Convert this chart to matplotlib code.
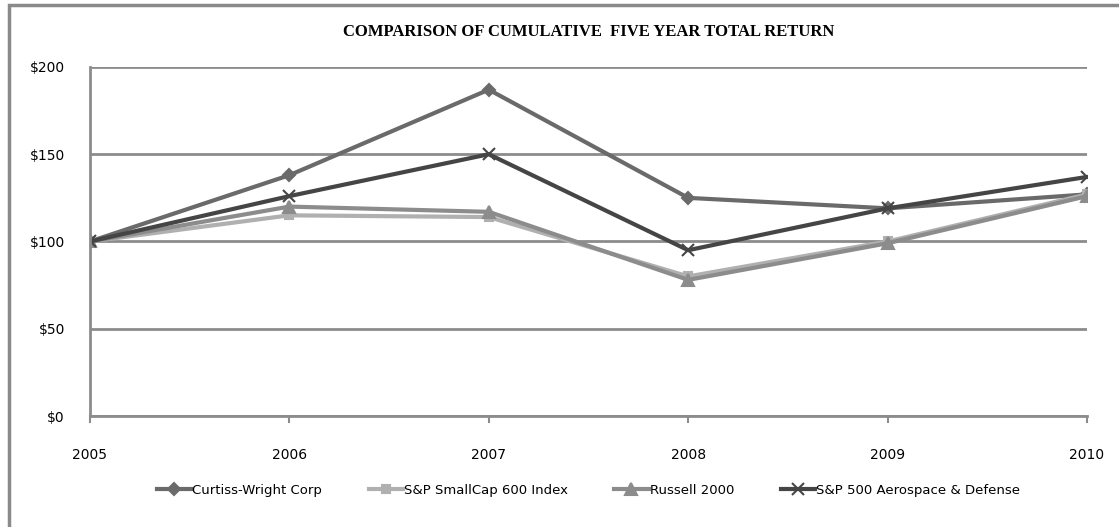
import matplotlib
matplotlib.use("Agg")
import matplotlib.pyplot as plt
from matplotlib.patches import Rectangle

years = ["2005", "2006", "2007", "2008", "2009", "2010"]
curtiss_wright = [100, 138, 187, 125, 119, 127]
smallcap_600 = [100, 115, 114, 80, 100, 127]
russell_2000 = [100, 120, 117, 78, 99, 126]
aero_defense = [100, 126, 150, 95, 119, 137]

y_ticks = [0, 50, 100, 150, 200]
y_labels = ["$0", "$50", "$100", "$150", "$200"]

series = [
    ("Curtiss-Wright Corp", curtiss_wright, "#6a6a6a", "D", 6),
    ("S&P SmallCap 600 Index", smallcap_600, "#b0b0b0", "s", 6),
    ("Russell 2000", russell_2000, "#8c8c8c", "^", 8),
    ("S&P 500 Aerospace & Defense", aero_defense, "#454545", "x", 8),
]

fig = plt.figure(figsize=(11.19, 5.27), dpi=100)
ax = fig.add_axes([0.0804, 0.2106, 0.8910, 0.6623])

# outer chart border
fig.patches.append(Rectangle((0.008, -0.05), 1.1, 1.04, transform=fig.transFigure,
                             fill=False, edgecolor="#8a8a8a", linewidth=2.5))

x = list(range(len(years)))
for name, vals, col, mk, ms in series:
    ax.plot(x, vals, color=col, linewidth=3, marker=mk, markersize=ms,
            markeredgecolor=col, markeredgewidth=1.5, label=name)

ax.set_xlim(0, len(years) - 1)
ax.set_ylim(0, 200)
ax.set_yticks(y_ticks)
ax.set_yticklabels(y_labels)
ax.set_xticks(x)
ax.set_xticklabels(years)
ax.grid(axis="y", color="#8c8c8c", linewidth=2)
ax.set_axisbelow(True)
for s in ["top", "right"]:
    ax.spines[s].set_visible(False)
for s in ["left", "bottom"]:
    ax.spines[s].set_color("#8c8c8c")
    ax.spines[s].set_linewidth(2)
ax.tick_params(axis="y", length=0, pad=18, labelsize=10)
ax.tick_params(axis="x", direction="out", length=5, width=1.5, color="#8c8c8c",
               pad=18, labelsize=10)

ax.set_title("COMPARISON OF CUMULATIVE  FIVE YEAR TOTAL RETURN",
             fontfamily="Liberation Serif", fontweight="bold", fontsize=12,
             pad=22)

ax.legend(loc="upper center", bbox_to_anchor=(0.5, -0.16), ncol=4, frameon=False,
          fontsize=9.5, handlelength=2.6, columnspacing=3.5, handletextpad=0.1)

fig.savefig("out.png", dpi=100)
